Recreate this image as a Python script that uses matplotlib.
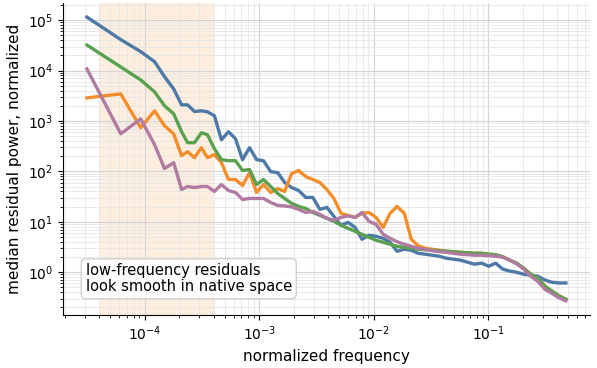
import numpy as np
import matplotlib
matplotlib.use("Agg")
import matplotlib.pyplot as plt


# ============================================================
# 1.  Binned residual spectra (median over segments)
# ============================================================
freq = np.array([
    3.13e-5, 6.18e-5, 9.23e-5, 1.22e-4, 1.49e-4, 1.79e-4, 2.10e-4, 2.37e-4,
    2.72e-4, 3.13e-4, 3.53e-4, 4.06e-4, 4.68e-4, 5.39e-4, 6.21e-4, 7.15e-4,
    8.24e-4, 9.48e-4, 1.09e-3, 1.26e-3, 1.45e-3, 1.67e-3, 1.92e-3, 2.21e-3,
    2.55e-3, 2.94e-3, 3.39e-3, 3.90e-3, 4.49e-3, 5.18e-3, 5.96e-3, 6.87e-3,
    7.91e-3, 9.10e-3, 1.05e-2, 1.21e-2, 1.39e-2, 1.60e-2, 1.85e-2, 2.13e-2,
    2.45e-2, 2.82e-2, 3.25e-2, 3.74e-2, 4.31e-2, 4.97e-2, 5.72e-2, 6.59e-2,
    7.59e-2, 8.75e-2, 0.101, 0.116, 0.134, 0.154, 0.177, 0.204,
    0.235, 0.271, 0.312, 0.360, 0.414, 0.477,
])

power_blue = np.array([
    1.15e5, 4.12e4, 2.38e4, 1.50e4, 7.57e3, 4.33e3, 2.09e3, 2.09e3,
    1.54e3, 1.59e3, 1.52e3, 1.27e3, 425, 612, 445, 171,
    295, 171, 163, 99, 94.7, 60, 47.8, 41.7,
    30.4, 30.4, 17.6, 19.3, 12.8, 8.49, 9.73, 7.75,
    4.49, 5.39, 5.15, 4.70, 3.92, 2.60, 2.85, 2.72,
    2.37, 2.27, 2.17, 2.07, 1.89, 1.81, 1.73, 1.58,
    1.44, 1.51, 1.31, 1.51, 1.15, 1.05, 1.0, 0.91,
    0.87, 0.83, 0.70, 0.63, 0.61, 0.61,
])

power_orange = np.array([
    2.87e3, 3.45e3, 734, 1.59e3, 804, 558, 205, 246,
    187, 295, 187, 215, 149, 68.9, 68.9, 52.4,
    94.7, 38.1, 54.8, 38.1, 45.7, 39.9, 90.5, 104,
    78.9, 68.9, 60.1, 43.7, 29.0, 14.7, 13.4, 12.2,
    14.7, 15.3, 12.2, 7.75, 14.7, 20.2, 14.7, 4.49,
    3.34, 2.98, 2.85, 2.72, 2.60, 2.54, 2.48, 2.43,
    2.37, 2.37, 2.27, 2.22, 2.02, 1.73, 1.51, 1.20,
    0.91, 0.76, 0.53, 0.42, 0.34, 0.29,
])

power_green = np.array([
    3.21e4, 1.18e4, 6.52e3, 3.78e3, 2.00e3, 1.39e3, 612, 371,
    371, 584, 534, 282, 171, 163, 163, 104,
    109, 54.8, 68.9, 50.1, 36.4, 29.0, 23.1, 20.2,
    18.4, 15.3, 13.4, 11.7, 10.2, 8.49, 7.41, 6.46,
    5.64, 4.92, 4.29, 3.92, 3.58, 3.26, 3.12, 2.98,
    2.85, 2.78, 2.72, 2.66, 2.60, 2.54, 2.48, 2.43,
    2.37, 2.37, 2.27, 2.22, 2.02, 1.73, 1.51, 1.20,
    0.91, 0.76, 0.53, 0.42, 0.34, 0.29,
])

power_purple = np.array([
    1.08e4, 558, 1.10e3, 339, 114, 149, 43.7, 50.1,
    47.8, 50.1, 50.1, 39.9, 54.8, 41.7, 38.1, 27.7,
    29.0, 29.0, 29.0, 24.2, 21.1, 20.6, 19.7, 17.6,
    15.3, 16.1, 14.0, 11.7, 10.7, 12.2, 13.1, 12.2,
    15.3, 10.2, 8.89, 5.64, 4.70, 4.01, 3.58, 3.26,
    2.98, 2.85, 2.66, 2.54, 2.48, 2.37, 2.27, 2.22,
    2.17, 2.17, 2.12, 2.07, 1.98, 1.73, 1.47, 1.15,
    0.83, 0.66, 0.46, 0.38, 0.31, 0.27,
])

# low-frequency band highlighted in the plot
band = (4e-5, 4e-4)
note = "low-frequency residuals\nlook smooth in native space"


# ============================================================
# 2.  Figure
# ============================================================
fig = plt.figure(figsize=(5.97, 3.68), dpi=100)
ax  = fig.add_axes([0.1055, 0.144, 0.8825, 0.848])

ax.axvspan(*band, color="#f28e2b", alpha=0.15, lw=0, zorder=0)

series = [
    (power_blue,   "#4e79a7"),
    (power_orange, "#f28e2b"),
    (power_green,  "#59a14f"),
    (power_purple, "#b07aa1"),
]
for vals, col in series:
    ax.plot(freq, vals, color=col, lw=2.4, solid_joinstyle="round")

ax.set_xscale("log")
ax.set_yscale("log")

ax.grid(True, which="major", color="0.83", lw=0.8)
ax.grid(True, which="minor", color="0.9", lw=0.6)

for side in ("top", "right"):
    ax.spines[side].set_visible(False)

ax.tick_params(labelsize=10)
ax.set_xlabel("normalized frequency", fontsize=11)
ax.set_ylabel("median residual power, normalized", fontsize=11)

ax.text(0.043, 0.066, note, transform=ax.transAxes, fontsize=10.5,
        ha="left", va="bottom", linespacing=1.1,
        bbox=dict(boxstyle="round,pad=0.3", fc="white", ec="0.8",
                  lw=1.0, alpha=0.9))

fig.savefig("out.png", dpi=100)
